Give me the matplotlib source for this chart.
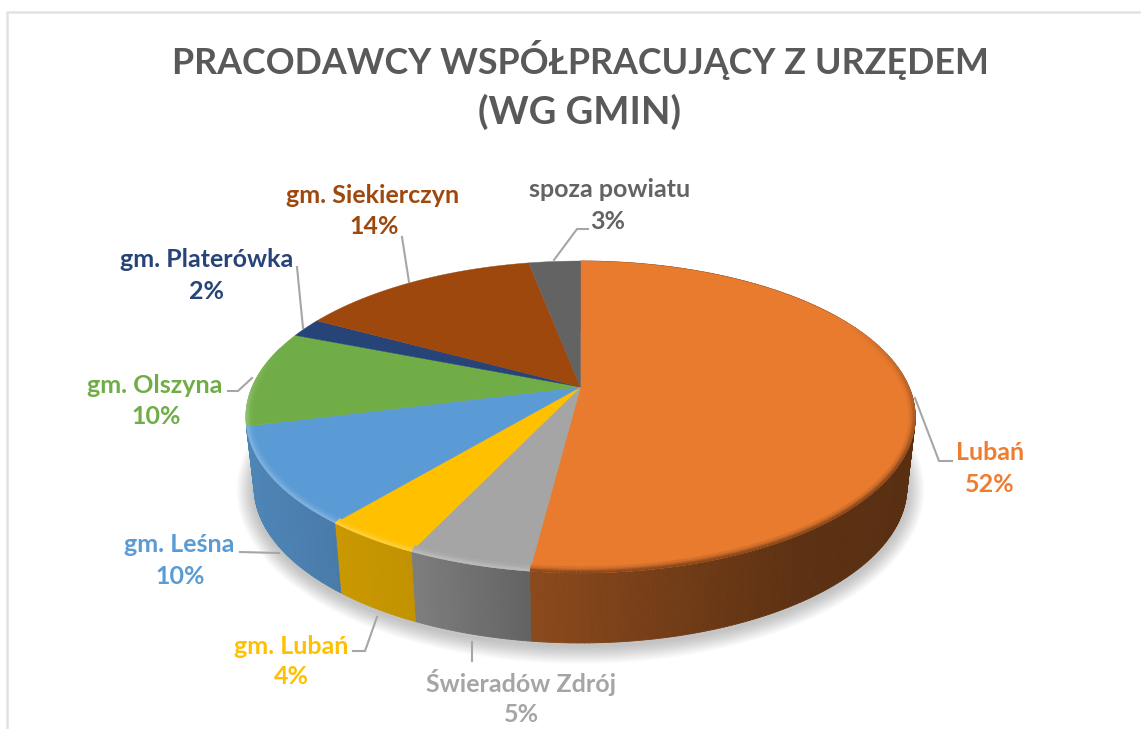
import matplotlib
matplotlib.use('Agg')
import matplotlib.pyplot as plt
import numpy as np
from matplotlib.collections import LineCollection, PolyCollection
from matplotlib.colors import to_rgb

# data
names = ['Lubań', 'Świeradów Zdrój', 'gm. Lubań', 'gm. Leśna', 'gm. Olszyna',
         'gm. Platerówka', 'gm. Siekierczyn', 'spoza powiatu']
shares = [52, 5, 4, 10, 10, 2, 14, 3]
colors = ['#E97B2F', '#A5A5A5', '#FFC000', '#5B9BD5', '#70AD47', '#264478', '#9E480E', '#636363']
text_colors = ['#ED7D31', '#A5A5A5', '#FFC000', '#5B9BD5', '#70AD47', '#264478', '#9E480E', '#636363']
title_lines = ['PRACODAWCY WSPÓŁPRACUJĄCY Z URZĘDEM', '(WG GMIN)']

# label centres (name x, name y, percent x, percent y) in pixels
label_pos = [(990, 452, 990, 484), (521, 683, 521, 714), (291, 646, 291, 676), (179, 544, 180, 576),
             (155, 385, 156, 416), (207, 259, 207, 291), (373, 195, 374, 226), (610, 189, 608, 221)]
# leader lines in pixels
leaders = [[(915, 398), (939, 461), (952, 461)], [(472, 642), (472, 661)],
           [(353, 651), (365, 651), (377, 617)], [(240, 552), (279, 553)],
           [(228, 391), (238, 391), (252, 378)], [(297, 267), (303, 328)],
           [(402, 237), (409, 282)], [(554, 260), (577, 229), (588, 229)]]

# pie geometry, the disc is seen in perspective
CX, CY = 580.5, 387
A, B, K = 328.5, 150.2, 0.1923
RX, RY, EY = 335, 156, 417  # half axes and middle of the projected ellipse
DEPTH = 70
BOTTOM_SCALE = 0.975


def project(theta, scale=1.0, dy=0.0):
    # theta in radians, clockwise from the top of the disc
    u, v = np.sin(theta), np.cos(theta)
    return CX + scale * A * u / (1 + K * v), CY - B * v / (1 + K * v) + dy


def rim_shade(x):
    # how dark the side of the disc gets, from left to right
    return np.interp(x, [245, 340, 415, 530, 800, 915], [0.86, 0.79, 0.76, 0.60, 0.40, 0.38])


fig = plt.figure(figsize=(11.41, 7.29), dpi=100)
ax = fig.add_axes([0, 0, 1, 1])
ax.set_xlim(0, 1141)
ax.set_ylim(729, 0)
ax.axis('off')

# frame of the chart, only top and left are in the crop
ax.plot([7, 7, 1141], [729, 12, 12], color='#E2E2E2', lw=1.8, zorder=1)

# soft shadow under the disc
t = np.linspace(0, 2 * np.pi, 300)
for grow in np.arange(1, 17):
    sx, sy = project(t, scale=BOTTOM_SCALE, dy=DEPTH + 3)
    sx = CX + (sx - CX) * (1 + grow / 300)
    sy = EY + DEPTH + 3 + (sy - EY - DEPTH - 3) * (1 + grow / 140)
    ax.fill(sx, sy, color='#555555', alpha=0.022, lw=0, zorder=2)

edges = np.radians(np.concatenate([[0], np.cumsum(shares)]) * 3.6)

# side of the disc, thin quads with their own shade (back slices stay hidden)
quads, quad_colors = [], []
for i in range(4):
    steps = max(int(shares[i] * 6), 6)
    th = np.linspace(edges[i], edges[i + 1], steps + 1)
    x0, y0 = project(th)
    x1, y1 = project(th, scale=BOTTOM_SCALE, dy=DEPTH)
    base = np.array(to_rgb(colors[i]))
    for j in range(steps):
        quads.append([(x0[j], y0[j]), (x0[j + 1], y0[j + 1]), (x1[j + 1], y1[j + 1]), (x1[j], y1[j])])
        quad_colors.append(base * rim_shade(x0[j]))
ax.add_collection(PolyCollection(quads, facecolors=quad_colors, edgecolors=quad_colors, linewidths=0.6, zorder=3))

# top of the disc
for i in range(len(shares)):
    th = np.linspace(edges[i], edges[i + 1], max(int(shares[i] * 6), 6))
    x, y = project(th)
    ax.fill(np.r_[CX, x], np.r_[CY, y], color=colors[i], lw=0.3, zorder=4)

# bevel along the front edge, light on the left and dark on the right
for d, power in [(1, 1.0), (2.5, 0.8), (4, 0.45), (5.5, 0.2)]:
    segs, seg_colors = [], []
    for i in range(len(shares)):
        th = np.linspace(edges[i], edges[i + 1], max(int(shares[i] * 6), 6))
        x, y = project(th)
        # pull the edge inwards so the band stays on the top face
        x = CX + (x - CX) * (1 - d / RX)
        y = EY + (y - EY) * (1 - d / RY)
        base = np.array(to_rgb(colors[i]))
        deg = np.degrees(th)
        for j in range(len(th) - 1):
            a = deg[j]
            if a < 60 or a > 285:
                continue
            if a < 187:
                amount = min((a - 60) / 60, 1) * 0.42 * power
                c = base * (1 - amount)
            else:
                amount = min((285 - a) / 25, 1) * 0.24 * power
                c = base + (1 - base) * amount
            segs.append([(x[j], y[j]), (x[j + 1], y[j + 1])])
            seg_colors.append(c)
    ax.add_collection(LineCollection(segs, colors=seg_colors, linewidths=1.7, zorder=5))

# leader lines and labels
for line in leaders:
    ax.plot([p[0] for p in line], [p[1] for p in line], color='#A6A6A6', lw=1.5, zorder=6, solid_joinstyle='miter')

for name, share, col, pos in zip(names, shares, text_colors, label_pos):
    ax.text(pos[0], pos[1], name, color=col, family='Lato', weight='bold', fontsize=18, ha='center', va='center', zorder=7)
    ax.text(pos[2], pos[3], f'{share}%', color=col, family='Lato', weight='bold', fontsize=18, ha='center', va='center', zorder=7)

ax.text(580, 60, title_lines[0], color='#595959', family='Lato', weight='bold', fontsize=25.8, ha='center', va='center')
ax.text(580, 112, title_lines[1], color='#595959', family='Lato', weight='bold', fontsize=27.5, ha='center', va='center')

plt.savefig('out.png', dpi=100)
